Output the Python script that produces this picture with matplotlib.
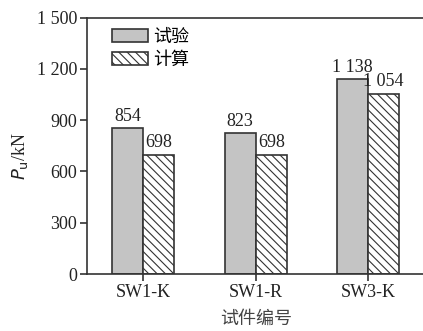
import matplotlib
matplotlib.use("Agg")
import matplotlib.pyplot as plt
import numpy as np
from matplotlib.patches import Patch

plt.rcParams['font.family'] = ['Liberation Serif', 'Noto Sans CJK SC']
plt.rcParams['hatch.linewidth'] = 0.8
plt.rcParams['hatch.color'] = '#333333'

specimens = ['SW1-K', 'SW1-R', 'SW3-K']
test_vals = [854, 823, 1138]
calc_vals = [698, 698, 1054]
yticks = [0, 300, 600, 900, 1200, 1500]
ytick_labels = ['0', '300', '600', '900', '1 200', '1 500']


def fmt(v):
    # thousands separated by a space
    s = str(v)
    return s if v < 1000 else s[:-3] + ' ' + s[-3:]


fs = 13
fig = plt.figure(figsize=(4.23, 3.31), dpi=100)
ax = fig.add_axes([0.2057, 0.172, 0.7978, 0.775])

x = np.arange(len(specimens))
w = 0.275
edge = '#333333'
b1 = ax.bar(x - w / 2, test_vals, w, color='#c4c4c4', edgecolor=edge, linewidth=1.2)
b2 = ax.bar(x + w / 2, calc_vals, w, color='white', edgecolor=edge, linewidth=1.2,
            hatch='\\\\\\\\')

for bars, vals in ((b1, test_vals), (b2, calc_vals)):
    for r, v in zip(bars, vals):
        ax.annotate(fmt(v), (r.get_x() + r.get_width() / 2, v), xytext=(0, 2.5),
                    textcoords='offset points', ha='center', va='bottom',
                    fontsize=fs, color='#222222')

ax.set_xlim(-0.5, 2.5)
ax.set_ylim(0, 1500)
ax.set_xticks(x)
ax.set_xticklabels(specimens, fontsize=fs, color='#222222')
ax.set_yticks(yticks)
ax.set_yticklabels(ytick_labels, fontsize=fs, color='#222222')
ax.tick_params(direction='out', length=5, width=1.2, color=edge, pad=2)
for sp in ax.spines.values():
    sp.set_linewidth(1.2)
    sp.set_color(edge)

ax.set_ylabel(r'$P_\mathrm{u}$/kN', fontsize=fs, color='#222222')
ax.yaxis.set_label_coords(-0.168, 0.46)
ax.set_xlabel('试件编号', fontsize=fs, color='#444444', labelpad=7)

handles = [Patch(facecolor='#c4c4c4', edgecolor=edge, linewidth=1.2),
           Patch(facecolor='white', edgecolor=edge, linewidth=1.2, hatch='\\\\\\\\')]
ax.legend(handles, ['试验', '计算'], loc='upper left', frameon=False, fontsize=fs,
          handlelength=2.0, handleheight=0.75, handletextpad=0.3, labelspacing=0.3,
          borderaxespad=0.0, borderpad=0.0, bbox_to_anchor=(0.074, 0.955))

fig.savefig('out.png', dpi=100)
